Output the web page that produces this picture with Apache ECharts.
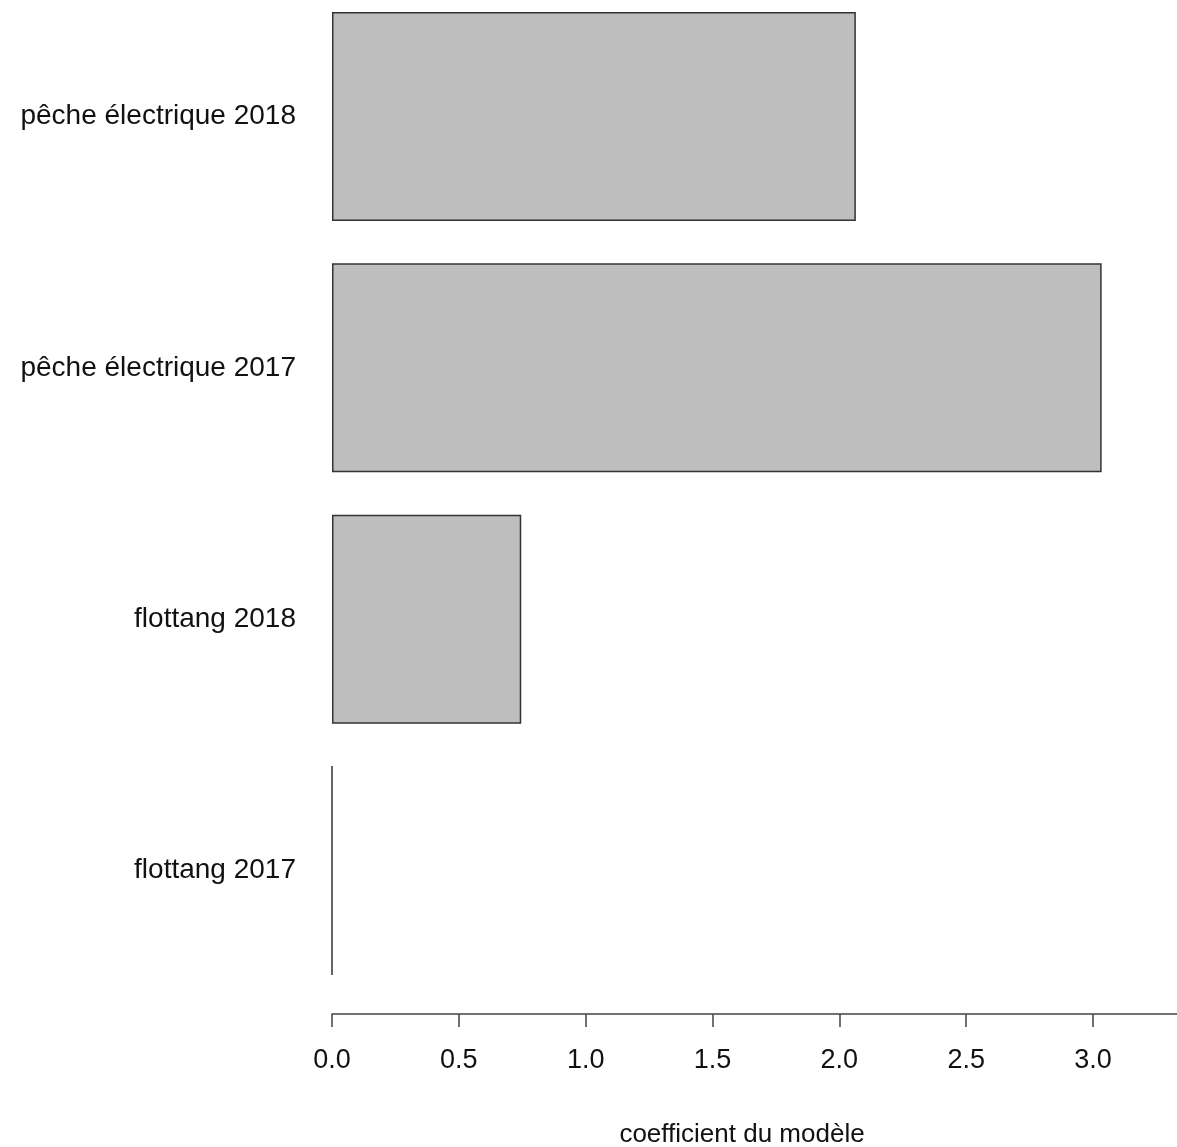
<!DOCTYPE html>
<html>
<head>
<meta charset="utf-8">
<script src="https://cdn.jsdelivr.net/npm/echarts@6/dist/echarts.min.js"></script>
<style>html,body{margin:0;padding:0;background:#fff}#c{width:1177px;height:1147px}</style>
</head>
<body>
<div id="c"></div>
<script>
// bottom-to-top order, as in the chart
var categories = ['flottang 2017', 'flottang 2018', 'pêche électrique 2017', 'pêche électrique 2018'];
var coefficients = [0, 0.746, 3.034, 2.065];
var xTicks = [0, 0.5, 1.0, 1.5, 2.0, 2.5, 3.0];
var xTitle = 'coefficient du modèle';

var FONT = '"Liberation Sans", Arial, Helvetica, sans-serif';
var chart = echarts.init(document.getElementById('c'), null, {renderer: 'canvas'});
chart.setOption({
  animation: false,
  backgroundColor: '#ffffff',
  grid: {left: 332, right: 0, top: 116.5, bottom: 276.5, containLabel: false},
  xAxis: {
    type: 'value', min: 0, max: 3.331, interval: 0.5, offset: 143.5,
    axisLine: {show: true, lineStyle: {color: '#444', width: 1.5}},
    axisTick: {show: true, length: 13, lineStyle: {color: '#444', width: 1.5}},
    splitLine: {show: false},
    axisLabel: {
      margin: 33, fontFamily: FONT, fontSize: 27, color: '#111',
      showMaxLabel: false,
      formatter: function (v) { return Math.abs(v - Math.round(v*2)/2) < 1e-9 ? v.toFixed(1) : ''; }
    }
  },
  yAxis: {
    type: 'category', data: categories, boundaryGap: false,
    axisLine: {show: false}, axisTick: {show: false}, splitLine: {show: false},
    axisLabel: {margin: 36, fontFamily: FONT, fontSize: 28, color: '#111'}
  },
  series: [{
    type: 'bar', data: coefficients, barWidth: 209, clip: false,
    itemStyle: {color: '#bebebe', borderColor: '#333', borderWidth: 1.5}
  }],
  graphic: [{
    type: 'text', x: 742, y: 1135,
    style: {text: xTitle, font: '26px ' + FONT, fill: '#111', textAlign: 'center', textVerticalAlign: 'middle'}
  }]
});
</script>
</body>
</html>
